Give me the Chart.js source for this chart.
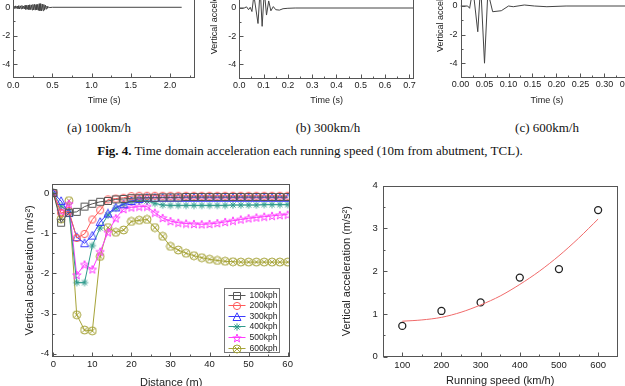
<!DOCTYPE html>
<html lang="en">
<head>
<meta charset="UTF-8">
<title>Fig. 4 / Fig. 5</title>
<script src="https://cdn.jsdelivr.net/npm/chart.js"></script>
<style>
  html, body { margin: 0; padding: 0; background: #fff; }
  body { width: 625px; height: 386px; overflow: hidden; position: relative; }
  canvas { position: absolute; }
  .cap { position: absolute; font-family: "Liberation Serif", "Times New Roman", serif; font-size: 13px; color: #111;
         white-space: nowrap; transform: translateX(-50%); line-height: 15px; }
</style>
</head>
<body>
<canvas id="chartA"></canvas>
<canvas id="chartB"></canvas>
<canvas id="chartC"></canvas>
<div class="cap" style="left:99px;top:120px">(a) 100km/h</div>
<div class="cap" style="left:328px;top:120px">(b) 300km/h</div>
<div class="cap" style="left:547px;top:120px">(c) 600km/h</div>
<div class="cap" style="left:310px;top:143px"><b>Fig. 4.</b> Time domain acceleration each running speed (10m from abutment, TCL).</div>
<canvas id="chartL"></canvas>
<canvas id="chartR"></canvas>

<script>
    // ---------- data ----------
    // (a) 100 km/h time history
    var timeA = [0, 0.01, 0.02, 0.03, 0.04, 0.05, 0.06, 0.07, 0.08, 0.09, 0.1, 0.11, 0.12, 0.13, 0.14, 0.15,
        0.16, 0.17, 0.18, 0.19, 0.2, 0.21, 0.22, 0.23, 0.24, 0.25, 0.26, 0.27, 0.28, 0.29, 0.3, 0.31, 0.32,
        0.33, 0.34, 0.35, 0.36, 0.37, 0.38, 0.39, 0.4, 0.41, 0.42, 0.43, 0.44, 0.45, 0.46, 0.5, 2.15];
    var accA = [0, 0.06, -0.08, 0.1, -0.07, 0.09, -0.1, 0.12, -0.12, 0.1, -0.11, 0.13, -0.1, 0.09, -0.12, 0.14,
        -0.15, 0.13, -0.14, 0.16, -0.17, 0.18, -0.16, 0.17, -0.19, 0.2, -0.18, 0.21, -0.2, 0.19, -0.18, 0.2,
        -0.22, 0.25, -0.24, 0.26, -0.25, 0.23, -0.24, 0.2, -0.18, 0.15, -0.12, 0.09, -0.06, 0.04, -0.02, 0, 0];
    // (b) 300 km/h
    var timeB = [0, 0.02, 0.03, 0.038, 0.045, 0.052, 0.06, 0.077, 0.086, 0.094, 0.103, 0.112, 0.121, 0.13,
        0.14, 0.15, 0.165, 0.18, 0.2, 0.23, 0.72];
    var accB = [0, 0, 0.08, -0.12, 0.05, -0.25, 0.9, -1.1, 1.4, -1.3, 1.2, -0.5, 0.5, -0.2, 0.1, -0.12,
        -0.15, -0.05, -0.02, 0, 0];
    // (c) 600 km/h
    var timeC = [0, 0.015, 0.019, 0.026, 0.036, 0.042, 0.05, 0.057, 0.067, 0.085, 0.1, 0.11, 0.133, 0.154,
        0.18, 0.22, 0.36];
    var accC = [0, 0, -0.16, 1.2, -1.8, 1.5, -4.0, 1.0, -0.4, -0.33, 0.0, -0.05, 0.07, 0.0, -0.05, 0, 0];

    // acceleration along the bridge for each speed
    var distance = [0, 2, 4, 6, 8, 10, 12, 14, 16, 18, 20, 22, 24, 26, 28, 30, 32, 34, 36, 38, 40,
        42, 44, 46, 48, 50, 52, 54, 56, 58, 60];
    var acc100 = [0, -0.74, -0.49, -0.47, -0.34, -0.27, -0.22, -0.2, -0.16, -0.15, -0.13, -0.12, -0.12, -0.12,
        -0.11, -0.11, -0.11, -0.1, -0.1, -0.1, -0.1, -0.1, -0.1, -0.1, -0.1, -0.1, -0.1, -0.1, -0.1, -0.1, -0.1];
    var acc200 = [0, -0.5, -0.45, -1.12, -1.02, -0.66, -0.43, -0.16, -0.14, -0.12, -0.08, -0.07, -0.07, -0.07,
        -0.07, -0.07, -0.07, -0.07, -0.07, -0.07, -0.07, -0.07, -0.07, -0.07, -0.07, -0.07, -0.07, -0.07, -0.07,
        -0.07, -0.07];
    var acc300 = [0, -0.2, -0.5, -1.1, -1.25, -1.06, -0.72, -0.51, -0.36, -0.28, -0.2, -0.15, -0.12, -0.12,
        -0.12, -0.12, -0.12, -0.12, -0.12, -0.12, -0.12, -0.12, -0.12, -0.12, -0.12, -0.12, -0.12, -0.12, -0.12,
        -0.12, -0.12];
    var acc400 = [0, -0.33, -0.45, -2.23, -2.23, -1.31, -0.87, -0.55, -0.38, -0.28, -0.21, -0.2, -0.2, -0.26,
        -0.3, -0.31, -0.31, -0.31, -0.31, -0.31, -0.31, -0.31, -0.31, -0.3, -0.3, -0.3, -0.3, -0.29, -0.29,
        -0.29, -0.29];
    var acc500 = [0, -0.45, -0.27, -2.04, -1.78, -1.9, -1.46, -0.98, -0.63, -0.4, -0.36, -0.34, -0.34, -0.49,
        -0.62, -0.7, -0.74, -0.76, -0.77, -0.78, -0.77, -0.75, -0.72, -0.69, -0.66, -0.63, -0.61, -0.59, -0.57,
        -0.55, -0.54];
    var acc600 = [0, -0.65, -0.19, -3.03, -3.41, -3.43, -1.58, -0.86, -0.98, -0.92, -0.71, -0.68, -0.66, -0.86,
        -1.08, -1.33, -1.42, -1.5, -1.56, -1.61, -1.65, -1.68, -1.7, -1.71, -1.72, -1.72, -1.72, -1.72, -1.72,
        -1.72, -1.72];
    var speedLabels = ["100kph", "200kph", "300kph", "400kph", "500kph", "600kph"];

    // peak acceleration vs running speed, with trend curve
    var speeds = [100, 200, 300, 400, 500, 600];
    var peakAcc = [0.72, 1.07, 1.27, 1.85, 2.05, 3.43];
    var fitSpeed = [100, 150, 200, 250, 300, 350, 400, 450, 500, 550, 600];
    var fitAcc = [0.83, 0.86, 0.92, 1.04, 1.21, 1.42, 1.69, 2.0, 2.36, 2.77, 3.22];

    // tick values
    var timeTicksA = [0, 0.5, 1.0, 1.5, 2.0];
    var timeTicksB = [0, 0.1, 0.2, 0.3, 0.4, 0.5, 0.6, 0.7];
    var timeTicksC = [0, 0.05, 0.1, 0.15, 0.2, 0.25, 0.3, 0.35];
    var accTicksTop = [-4, -2, 0, 2, 4, 6];
    var distTicks = [0, 10, 20, 30, 40, 50, 60];
    var accTicksL = [0, -1, -2, -3, -4];
    var speedTicks = [100, 200, 300, 400, 500, 600];
    var accTicksR = [0, 1, 2, 3, 4];

    Chart.defaults.font.family = "'Liberation Sans', Arial, sans-serif";
    Chart.defaults.color = "#222";

    function pts(xs, ys) {
        return xs.map(function (x, i) { return { x: x, y: ys[i] }; });
    }

    // hollow marker drawn once, used as pointStyle
    function marker(kind, color) {
        var c = document.createElement("canvas");
        c.width = 10; c.height = 10;
        var g = c.getContext("2d");
        g.strokeStyle = color; g.lineWidth = 1;
        g.beginPath();
        if (kind === "square") {
            g.rect(1.5, 1.5, 7, 7);
        } else if (kind === "circle") {
            g.arc(5, 5, 3.6, 0, Math.PI * 2);
        } else if (kind === "triangle") {
            g.moveTo(5, 0.8); g.lineTo(9, 8.5); g.lineTo(1, 8.5); g.closePath();
        } else if (kind === "asterisk") {
            for (var k = 0; k < 4; k++) {
                var a = k * Math.PI / 4;
                g.moveTo(5 + 3.6 * Math.cos(a), 5 + 3.6 * Math.sin(a));
                g.lineTo(5 - 3.6 * Math.cos(a), 5 - 3.6 * Math.sin(a));
            }
        } else if (kind === "star") {
            for (var j = 0; j < 10; j++) {
                var r = j % 2 ? 1.8 : 4.4;
                var b = -Math.PI / 2 + j * Math.PI / 5;
                var px = 5 + r * Math.cos(b), py = 5.4 + r * Math.sin(b);
                if (j) g.lineTo(px, py); else g.moveTo(px, py);
            }
            g.closePath();
        } else if (kind === "xcircle") {
            g.arc(5, 5, 4, 0, Math.PI * 2);
            g.moveTo(2.2, 2.2); g.lineTo(7.8, 7.8);
            g.moveTo(7.8, 2.2); g.lineTo(2.2, 7.8);
        }
        g.stroke();
        return c;
    }

    // frame box + inward major/minor ticks
    var frameTicks = {
        id: "frameTicks",
        afterDatasetsDraw: function (chart) {
            var ctx = chart.ctx, a = chart.chartArea;
            var xs = chart.scales.x, ys = chart.scales.y;
            var L = Math.round(a.left) + 0.5, R = Math.round(a.right) - 0.5;
            var T = Math.round(a.top) + 0.5, B = Math.round(a.bottom) - 0.5;
            ctx.save();
            ctx.strokeStyle = "#555";
            ctx.lineWidth = 1;
            ctx.strokeRect(L, T, R - L, B - T);
            function minors(sc) {
                var v = sc.ticks.map(function (t) { return t.value; });
                var out = [], st = v[1] - v[0];
                for (var i = 0; i < v.length - 1; i++) out.push((v[i] + v[i + 1]) / 2);
                out.push(v[v.length - 1] + st / 2);
                out.push(v[0] - st / 2);
                return out.filter(function (m) { return m > Math.min(sc.min, sc.max) && m < Math.max(sc.min, sc.max); });
            }
            ctx.beginPath();
            xs.ticks.forEach(function (t) {
                var p = Math.round(xs.getPixelForValue(t.value)) + 0.5;
                ctx.moveTo(p, B); ctx.lineTo(p, B - 4);
            });
            minors(xs).forEach(function (v) {
                var p = Math.round(xs.getPixelForValue(v)) + 0.5;
                ctx.moveTo(p, B); ctx.lineTo(p, B - 2);
            });
            ys.ticks.forEach(function (t) {
                var p = Math.round(ys.getPixelForValue(t.value)) + 0.5;
                ctx.moveTo(L, p); ctx.lineTo(L + 4, p);
            });
            minors(ys).forEach(function (v) {
                var p = Math.round(ys.getPixelForValue(v)) + 0.5;
                ctx.moveTo(L, p); ctx.lineTo(L + 2, p);
            });
            ctx.stroke();
            ctx.restore();
        }
    };

    // legend box inside the plot (bottom right)
    var boxLegend = {
        id: "boxLegend",
        afterDraw: function (chart) {
            var ctx = chart.ctx, a = chart.chartArea;
            var w = 55, h = 64, left = Math.round(a.right - 11 - w) + 0.5, top = Math.round(a.bottom - 5 - h) + 0.5;
            ctx.save();
            ctx.fillStyle = "#fff";
            ctx.fillRect(left, top, w, h);
            ctx.strokeStyle = "#777";
            ctx.lineWidth = 1;
            ctx.strokeRect(left, top, w, h);
            ctx.font = "8.5px 'Liberation Sans', Arial, sans-serif";
            ctx.textBaseline = "middle";
            chart.data.datasets.forEach(function (ds, i) {
                var y = Math.round(top + 6 + i * 10.6);
                ctx.strokeStyle = ds.borderColor;
                ctx.beginPath();
                ctx.moveTo(left + 4, y + 0.5); ctx.lineTo(left + 21, y + 0.5);
                ctx.stroke();
                var img = ds.pointStyle;
                ctx.drawImage(img, Math.round(left + 12.5 - img.width / 2), Math.round(y + 0.5 - img.height / 2));
                ctx.fillStyle = "#222";
                ctx.fillText(ds.label, left + 25, y + 0.5);
            });
            ctx.restore();
        }
    };

    // place a canvas and fix its plot area in page pixels
    function makeChart(id, box, area, cfg) {
        var cv = document.getElementById(id);
        cv.width = box.w; cv.height = box.h;
        cv.style.left = box.l + "px"; cv.style.top = box.t + "px";
        cv.style.width = box.w + "px"; cv.style.height = box.h + "px";
        var o = cfg.axes;
        var titleFont = { size: o.titleSize };
        var tickFont = { size: o.tickSize };
        var scales = {
            x: {
                type: "linear", min: o.xMin, max: o.xMax,
                grid: { display: false, drawTicks: false }, border: { display: false },
                ticks: {
                    autoSkip: false, maxRotation: 0, minRotation: 0, padding: o.xPad, font: tickFont, color: "#222",
                    callback: function (v) { return Number(v).toFixed(o.xDec); }
                },
                afterBuildTicks: function (s) { s.ticks = o.xTicks.map(function (v) { return { value: v }; }); },
                afterFit: function (s) { s.height = box.t + box.h - area.b; },
                title: { display: true, text: o.xTitle, font: titleFont, color: "#222", padding: { top: 0, bottom: 4 } }
            },
            y: {
                type: "linear", min: o.yMin, max: o.yMax,
                grid: { display: false, drawTicks: false }, border: { display: false },
                ticks: {
                    autoSkip: false, padding: o.yPad, font: tickFont, color: "#222",
                    callback: function (v) { return Number(v).toFixed(0); }
                },
                afterBuildTicks: function (s) { s.ticks = o.yTicks.map(function (v) { return { value: v }; }); },
                afterFit: function (s) { s.width = area.l - box.l; },
                title: { display: true, text: o.yTitle, font: titleFont, color: "#222", padding: { top: 4, bottom: 0 } }
            }
        };
        return new Chart(cv, {
            type: cfg.type,
            data: { datasets: cfg.datasets },
            options: {
                responsive: false,
                animation: false,
                devicePixelRatio: 1,
                layout: { padding: { left: 0, bottom: 0, top: area.t - box.t, right: box.l + box.w - area.r } },
                plugins: { legend: { display: false }, tooltip: { enabled: false } },
                scales: scales
            },
            plugins: cfg.plugins
        });
    }

    function traceSet(xs, ys) {
        return [{
            data: pts(xs, ys), borderColor: "#444", borderWidth: 1, pointRadius: 0, tension: 0, fill: false
        }];
    }

    var yTitle = "Vertical acceleration (m/s\u00B2)";

    // ----- top row: time histories -----
    makeChart("chartA", { l: -30, t: -90, w: 235, h: 200 }, { l: 13.3, t: -77.8, r: 195, b: 78.2 }, {
        type: "line", datasets: traceSet(timeA, accA), plugins: [frameTicks],
        axes: {
            xMin: 0, xMax: 2.32, yMin: -5, yMax: 6, xTicks: timeTicksA, yTicks: accTicksTop, xDec: 1,
            xTitle: "Time (s)", yTitle: yTitle, tickSize: 9, titleSize: 9, xPad: 2, yPad: 3
        }
    });
    makeChart("chartB", { l: 205, t: -90, w: 220, h: 200 }, { l: 239.3, t: -76.6, r: 414, b: 78.5 }, {
        type: "line", datasets: traceSet(timeB, accB), plugins: [frameTicks],
        axes: {
            xMin: 0, xMax: 0.719, yMin: -5, yMax: 6, xTicks: timeTicksB, yTicks: accTicksTop, xDec: 1,
            xTitle: "Time (s)", yTitle: yTitle, tickSize: 9, titleSize: 9, xPad: 2, yPad: 3
        }
    });
    makeChart("chartC", { l: 431, t: -90, w: 229, h: 200 }, { l: 460.5, t: -79.8, r: 633.3, b: 77.5 }, {
        type: "line", datasets: traceSet(timeC, accC), plugins: [frameTicks],
        axes: {
            xMin: 0, xMax: 0.36, yMin: -5, yMax: 6, xTicks: timeTicksC, yTicks: accTicksTop, xDec: 2,
            xTitle: "Time (s)", yTitle: yTitle, tickSize: 9, titleSize: 9, xPad: 2, yPad: 3
        }
    });

    // ----- bottom left: acceleration along distance -----
    var seriesL = [acc100, acc200, acc300, acc400, acc500, acc600];
    var colorsL = ["#555555", "#ff5a5a", "#3c3cff", "#2f9a8c", "#ff3cff", "#a6a338"];
    var kindsL = ["square", "circle", "triangle", "asterisk", "star", "xcircle"];
    var dsL = seriesL.map(function (s, i) {
        return {
            label: speedLabels[i], data: pts(distance, s), borderColor: colorsL[i], borderWidth: 1,
            pointStyle: marker(kindsL[i], colorsL[i]), pointRadius: 4, tension: 0, fill: false
        };
    });
    makeChart("chartL", { l: 19, t: 175, w: 281, h: 219 }, { l: 52.3, t: 183, r: 290, b: 357 }, {
        type: "line", datasets: dsL, plugins: [frameTicks, boxLegend],
        axes: {
            xMin: -0.25, xMax: 60.6, yMin: -4.08, yMax: 0.23, xTicks: distTicks, yTicks: accTicksL, xDec: 0,
            xTitle: "Distance (m)", yTitle: yTitle, tickSize: 9.5, titleSize: 11, xPad: 2, yPad: 3
        }
    });

    // ----- bottom right: peak acceleration vs speed -----
    makeChart("chartR", { l: 336, t: 175, w: 289, h: 217 }, { l: 382.7, t: 184, r: 617.7, b: 356.7 }, {
        type: "scatter",
        datasets: [
            {
                data: pts(fitSpeed, fitAcc), showLine: true, borderColor: "#f06a6a", borderWidth: 1,
                pointRadius: 0, tension: 0.3
            },
            {
                data: pts(speeds, peakAcc), pointStyle: "circle", pointRadius: 3.5, borderColor: "#222",
                backgroundColor: "rgba(0,0,0,0)", borderWidth: 1.3
            }
        ],
        plugins: [frameTicks],
        axes: {
            xMin: 50, xMax: 650, yMin: 0, yMax: 4, xTicks: speedTicks, yTicks: accTicksR, xDec: 0,
            xTitle: "Running speed (km/h)", yTitle: yTitle, tickSize: 9.5, titleSize: 11, xPad: 3, yPad: 5
        }
    });
</script>
</body>
</html>
